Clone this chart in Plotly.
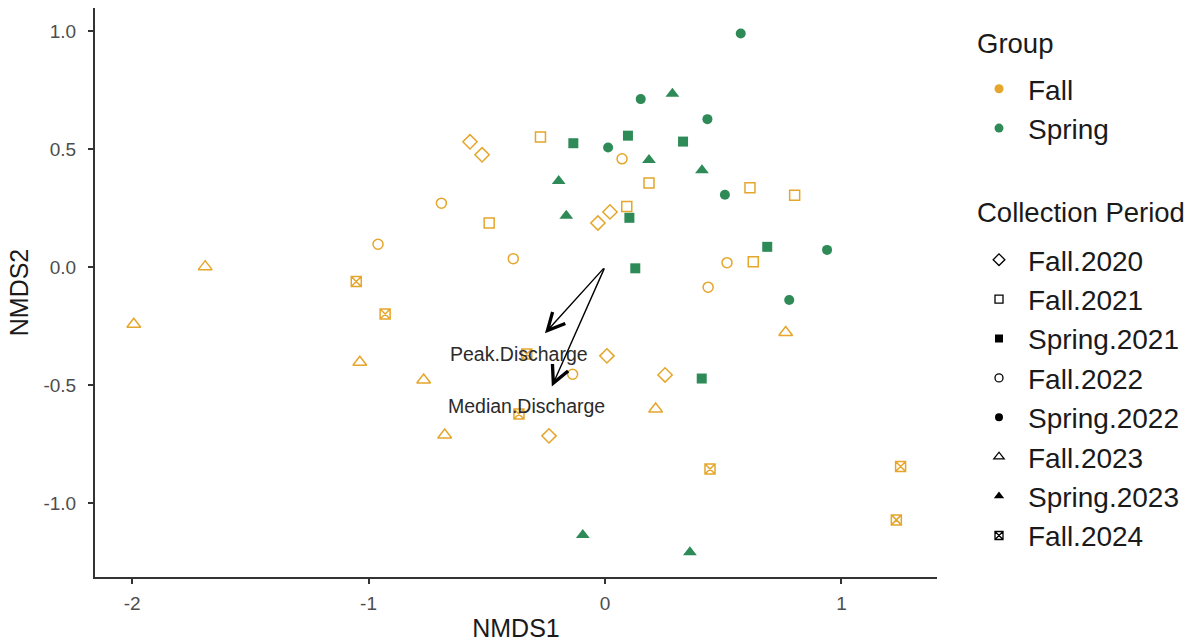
import plotly.graph_objects as go

# ---------------- data ----------------
periods = ["Fall.2020", "Fall.2021", "Spring.2021", "Fall.2022",
           "Spring.2022", "Fall.2023", "Spring.2023", "Fall.2024"]
period_group = ["Fall", "Fall", "Spring", "Fall", "Spring", "Fall", "Spring", "Fall"]

fall2020_x = [-0.571, -0.520, -0.030, 0.021, 0.008, 0.254, -0.237]
fall2020_y = [0.530, 0.475, 0.186, 0.233, -0.377, -0.458, -0.716]

fall2021_x = [-0.273, 0.186, 0.092, 0.613, 0.802, 0.627, -0.490]
fall2021_y = [0.550, 0.356, 0.256, 0.335, 0.304, 0.022, 0.186]

spring2021_x = [-0.134, 0.097, 0.330, 0.103, 0.686, 0.128, 0.409]
spring2021_y = [0.524, 0.556, 0.531, 0.208, 0.085, -0.006, -0.473]

fall2022_x = [-0.692, -0.960, -0.388, 0.072, 0.516, 0.436, -0.137]
fall2022_y = [0.270, 0.096, 0.035, 0.458, 0.018, -0.086, -0.455]

spring2022_x = [0.574, 0.151, 0.433, 0.013, 0.507, 0.939, 0.779]
spring2022_y = [0.989, 0.711, 0.626, 0.506, 0.306, 0.072, -0.140]

fall2023_x = [-1.691, -1.993, -1.037, -0.767, -0.678, 0.764, 0.214]
fall2023_y = [0.001, -0.243, -0.404, -0.479, -0.712, -0.278, -0.602]

spring2023_x = [0.285, 0.186, 0.410, -0.196, -0.164, -0.094, 0.359]
spring2023_y = [0.734, 0.453, 0.410, 0.364, 0.217, -1.136, -1.209]

fall2024_x = [-1.052, -0.930, 0.444, 1.250, 1.232, -0.331, -0.364]
fall2024_y = [-0.062, -0.200, -0.856, -0.846, -1.072, -0.369, -0.623]

period_x = [fall2020_x, fall2021_x, spring2021_x, fall2022_x,
            spring2022_x, fall2023_x, spring2023_x, fall2024_x]
period_y = [fall2020_y, fall2021_y, spring2021_y, fall2022_y,
            spring2022_y, fall2023_y, spring2023_y, fall2024_y]

# environmental fit vectors
env_names = ["Peak.Discharge", "Median.Discharge"]
env_x = [-0.254, -0.225]
env_y = [-0.281, -0.507]
env_label_x = [-0.362, -0.331]
env_label_y = [-0.368, -0.589]

x_ticks = [-2, -1, 0, 1]
x_ticklabels = ["-2", "-1", "0", "1"]
y_ticks = [1.0, 0.5, 0.0, -0.5, -1.0]
y_ticklabels = ["1.0", "0.5", "0.0", "-0.5", "-1.0"]

legend_titles = ["Group", "Collection Period"]

# ---------------- styles ----------------
group_colors = {"Fall": "#E5A62B", "Spring": "#2E8B57"}
period_symbols = {
    "Fall.2020": ("diamond-open", 11),
    "Fall.2021": ("square-open", 10),
    "Spring.2021": ("square", 10),
    "Fall.2022": ("circle-open", 10),
    "Spring.2022": ("circle", 10),
    "Fall.2023": ("triangle-up-open", 12),
    "Spring.2023": ("triangle-up", 12),
    "Fall.2024": ("square-x-open", 10),
}
legend_sizes = {
    "Fall.2020": 9, "Fall.2021": 8, "Spring.2021": 8, "Fall.2022": 8,
    "Spring.2022": 8, "Fall.2023": 9, "Spring.2023": 9, "Fall.2024": 8,
}

FONT = "Liberation Sans, Arial, sans-serif"
W, H = 1192, 642
ML, MR, MT, MB = 95, 255, 8, 65
PW, PH = W - ML - MR, H - MT - MB


def px_to_paper(px, py):
    return (px - ML) / PW, (H - MB - py) / PH


fig = go.Figure()

for name, grp, xs, ys in zip(periods, period_group, period_x, period_y):
    sym, sz = period_symbols[name]
    is_open = sym.endswith("-open")
    fig.add_trace(go.Scatter(
        x=xs, y=ys, mode="markers", name=name, showlegend=False,
        marker=dict(symbol=sym, size=sz, color=group_colors[grp],
                    line=dict(width=1.5 if is_open else 0, color=group_colors[grp])),
        hoverinfo="x+y+name",
    ))

# legend: Group
for grp in ["Fall", "Spring"]:
    fig.add_trace(go.Scatter(
        x=[None], y=[None], mode="markers", name=grp, legend="legend",
        marker=dict(symbol="circle", size=9, color=group_colors[grp]),
    ))

# legend: Collection Period
for name in periods:
    sym, _ = period_symbols[name]
    fig.add_trace(go.Scatter(
        x=[None], y=[None], mode="markers", name=name, legend="legend2",
        marker=dict(symbol=sym, size=legend_sizes[name], color="black",
                    line=dict(width=1.3 if sym.endswith("-open") else 0, color="black")),
    ))

annotations = []
for nm, ex, ey, lx, ly in zip(env_names, env_x, env_y, env_label_x, env_label_y):
    annotations.append(dict(
        x=ex, y=ey, ax=0, ay=0, xref="x", yref="y", axref="x", ayref="y",
        text="", showarrow=True, arrowhead=5, arrowsize=2.4, arrowwidth=1.4,
        arrowcolor="black", standoff=0, startstandoff=0,
    ))
    annotations.append(dict(
        x=lx, y=ly, xref="x", yref="y", text=nm, showarrow=False,
        font=dict(family=FONT, size=19.5, color="#2b2b2b"),
        xanchor="center", yanchor="middle",
    ))

# legend titles
for title, (tx, ty) in zip(legend_titles, [(975, 44), (975, 213)]):
    px, py = px_to_paper(tx, ty)
    annotations.append(dict(
        x=px, y=py, xref="paper", yref="paper", text=title, showarrow=False,
        xanchor="left", yanchor="middle",
        font=dict(family=FONT, size=27.5, color="#1a1a1a"),
    ))

legend_common = dict(
    font=dict(size=28, color="#1a1a1a"),
    xref="container", yref="container", xanchor="left", yanchor="top",
    bgcolor="rgba(0,0,0,0)", itemwidth=48, tracegroupgap=0, maxheight=600,
)

fig.update_layout(
    width=W, height=H,
    margin=dict(l=ML, r=MR, t=MT, b=MB, autoexpand=False),
    paper_bgcolor="white", plot_bgcolor="white",
    font=dict(family=FONT, color="black"),
    annotations=annotations,
    showlegend=True,
    legend=dict(x=970 / W, y=1 - 64 / H, **legend_common),
    legend2=dict(x=970 / W, y=1 - 235 / H, **legend_common),
)

fig.update_xaxes(
    range=[-2.157, 1.404], showgrid=False, zeroline=False,
    showline=True, linecolor="#333333", linewidth=2,
    ticks="outside", ticklen=5, tickwidth=1.6, tickcolor="#333333",
    tickvals=x_ticks, ticktext=x_ticklabels, ticklabelstandoff=3,
    tickfont=dict(size=19, color="#4d4d4d"),
    title=dict(text="NMDS1", font=dict(size=25, color="#1a1a1a"), standoff=9),
    automargin=False,
)
fig.update_yaxes(
    range=[-1.314, 1.097], showgrid=False, zeroline=False,
    showline=True, linecolor="#333333", linewidth=2,
    ticks="outside", ticklen=5, tickwidth=1.6, tickcolor="#333333",
    tickvals=y_ticks, ticktext=y_ticklabels, ticklabelstandoff=8,
    tickfont=dict(size=19, color="#4d4d4d"),
    title=dict(text="NMDS2", font=dict(size=25, color="#1a1a1a"), standoff=8),
    automargin=False,
)

fig.write_html("out.html", post_script="document.body.style.margin='0';",
               config={"displayModeBar": False})
